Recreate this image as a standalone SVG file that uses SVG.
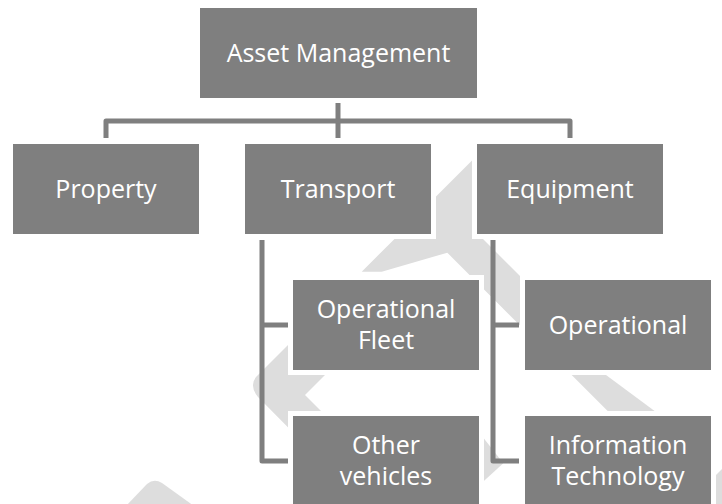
<svg xmlns="http://www.w3.org/2000/svg" width="722" height="504" viewBox="0 0 722 504">
<style>
.wm{fill:#dddddd;stroke:none}
.box{fill:#7f7f7f;stroke:#ffffff;stroke-width:10;paint-order:stroke}
.lbl{fill:#ffffff;font-family:"Open Sans","DejaVu Sans",sans-serif;font-size:25px;text-anchor:middle}
.con{fill:none;stroke:#7f7f7f;stroke-width:5;stroke-linejoin:round;stroke-linecap:butt}
</style>
<rect width="722" height="504" fill="#ffffff"/>
<g id="watermark">
<path class="wm" d="M478,154.4 L430,202.4 L430,233 L400,233.4 L361.7,271.7 L381.7,271.7 L447.3,252.7 L535,340.4 L535,291 L478,234 Z"/>
<path class="wm" d="M256,377 L300,333 L340,333 L340,360 L305,395 L330,420 L330,439.4 L300,439.4 L258,397 Q249,386 256,377 Z"/>
<path class="wm" d="M567.7,371 L600.6,371 L660,415 L611.7,415 Z"/>
<path class="wm" d="M480,433.6 L503.3,463.3 L480,484.6 Z"/>
<path class="wm" d="M712,479 L726,465 L726,506 L712,506 Z"/>
<path class="wm" d="M126,506 L147,484 Q154,478 162,483 L194,506 Z"/>
</g>
<g id="connectors">
<path class="con" d="M338,103 V138"/>
<path class="con" d="M106,138 V121 H570 V138"/>
<path class="con" d="M262,240 V461 H288"/>
<path class="con" d="M262,325 H288"/>
<path class="con" d="M493,240 V461 H519"/>
<path class="con" d="M493,325 H519"/>
</g>
<g id="asset-management">
<rect class="box" x="200" y="8" width="277" height="90"/>
<text class="lbl" x="338.5" y="62">Asset Management</text>
</g>
<g id="property">
<rect class="box" x="13" y="144" width="186" height="90"/>
<text class="lbl" x="106" y="198">Property</text>
</g>
<g id="transport">
<rect class="box" x="245" y="144" width="186" height="90"/>
<text class="lbl" x="338" y="198">Transport</text>
</g>
<g id="equipment">
<rect class="box" x="477" y="144" width="186" height="90"/>
<text class="lbl" x="570" y="198">Equipment</text>
</g>
<g id="operational-fleet">
<rect class="box" x="293" y="280" width="186" height="90"/>
<text class="lbl" x="386" y="318">Operational</text>
<text class="lbl" x="386" y="349">Fleet</text>
</g>
<g id="operational">
<rect class="box" x="525" y="280" width="186" height="90"/>
<text class="lbl" x="618" y="334">Operational</text>
</g>
<g id="other-vehicles">
<rect class="box" x="293" y="416" width="186" height="92"/>
<text class="lbl" x="386" y="454">Other</text>
<text class="lbl" x="386" y="485">vehicles</text>
</g>
<g id="information-technology">
<rect class="box" x="525" y="416" width="186" height="92"/>
<text class="lbl" x="618" y="454">Information</text>
<text class="lbl" x="618" y="485">Technology</text>
</g>
</svg>
